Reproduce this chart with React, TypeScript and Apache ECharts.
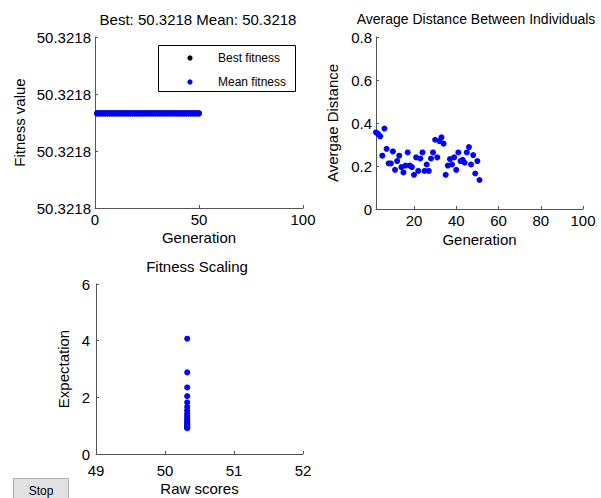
import React, { useEffect, useRef } from "react";
import * as echarts from "echarts";

// ---- Data ----
// Plot 1: fitness per generation (shown as offset units; all tick labels read 50.3218)
const fitnessGenerations = [1,2,3,4,5,6,7,8,9,10,11,12,13,14,15,16,17,18,19,20,21,22,23,24,25,26,27,28,29,30,31,32,33,34,35,36,37,38,39,40,41,42,43,44,45,46,47,48,49,50];
const bestFitness = [1.66,1.66,1.66,1.66,1.66,1.66,1.66,1.66,1.66,1.66,1.66,1.66,1.66,1.66,1.66,1.66,1.66,1.66,1.66,1.66,1.66,1.66,1.66,1.66,1.66,1.66,1.66,1.66,1.66,1.66,1.66,1.66,1.66,1.66,1.66,1.66,1.66,1.66,1.66,1.66,1.66,1.66,1.66,1.66,1.66,1.66,1.66,1.66,1.66,1.66];
const meanFitness = [1.66,1.66,1.66,1.66,1.66,1.66,1.66,1.66,1.66,1.66,1.66,1.66,1.66,1.66,1.66,1.66,1.66,1.66,1.66,1.66,1.66,1.66,1.66,1.66,1.66,1.66,1.66,1.66,1.66,1.66,1.66,1.66,1.66,1.66,1.66,1.66,1.66,1.66,1.66,1.66,1.66,1.66,1.66,1.66,1.66,1.66,1.66,1.66,1.66,1.66];
const fitnessTickLabels = ["50.3218", "50.3218", "50.3218", "50.3218"];
const legendNames = ["Best fitness", "Mean fitness"];

// Plot 2: average distance between individuals
const distanceGenerations = [2,3,4,5,6,7,8,9,10,11,12,13,14,15,16,17,18,19,20,21,22,23,24,25,26,27,28,29,30,31,32,33,34,35,36,37,38,39,40,41,42,43,44,45,46,47,48,49,50,51];
const avgDistance = [0.356,0.349,0.338,0.248,0.374,0.280,0.212,0.212,0.268,0.182,0.223,0.248,0.195,0.170,0.202,0.263,0.202,0.195,0.159,0.240,0.177,0.235,0.263,0.177,0.207,0.177,0.235,0.263,0.322,0.240,0.316,0.333,0.304,0.159,0.202,0.232,0.207,0.240,0.182,0.263,0.223,0.229,0.215,0.263,0.288,0.207,0.251,0.165,0.223,0.135];
const distanceXTicks = [20, 40, 60, 80, 100];

// Plot 3: fitness scaling
const rawScores = [50.3218,50.3218,50.3218,50.3218,50.3218,50.3218,50.3218,50.3218,50.3218,50.3218,50.3218,50.3218,50.3218,50.3218,50.3218,50.3218,50.3218,50.3218,50.3218,50.3218];
const expectation = [4.07,2.88,2.35,2.04,1.82,1.66,1.54,1.44,1.36,1.29,1.23,1.17,1.13,1.09,1.05,1.02,0.99,0.96,0.93,0.91];

const FONT = "'Liberation Sans', Arial, Helvetica, sans-serif";
const AXIS_COLOR = "#555";
const BLUE = "#0000ff";

function baseAxis(extra: any) {
  return {
    splitLine: { show: false },
    axisLine: { show: true, onZero: false, lineStyle: { color: AXIS_COLOR, width: 1 } },
    axisTick: { show: true, inside: true, length: 3, lineStyle: { color: AXIS_COLOR } },
    nameTextStyle: { color: "#000", fontSize: 15, fontFamily: FONT },
    ...extra,
    axisLabel: { color: "#000", fontSize: 15, fontFamily: FONT, ...(extra.axisLabel || {}) },
  };
}

export default function App() {
  const ref = useRef<HTMLDivElement>(null);
  useEffect(() => {
    if (!ref.current) return;
    const chart = echarts.init(ref.current, null, { renderer: "svg" });
    const titleStyle = { color: "#000", fontSize: 15, fontWeight: "normal" as const, fontFamily: FONT };
    chart.setOption({
      animation: false,
      backgroundColor: "#fff",
      title: [
        { text: "Best: 50.3218 Mean: 50.3218", left: 198, top: 12, textAlign: "center", padding: 0, textStyle: titleStyle },
        { text: "Average Distance Between Individuals", left: 476, top: 12, textAlign: "center", padding: 0, textStyle: { ...titleStyle, fontSize: 14 } },
        { text: "Fitness Scaling", left: 197, top: 259, textAlign: "center", padding: 0, textStyle: titleStyle },
      ],
      grid: [
        { left: 95, top: 37, width: 208, height: 171 },
        { left: 376, top: 37, width: 207, height: 172 },
        { left: 96, top: 284, width: 207, height: 170 },
      ],
      xAxis: [
        baseAxis({ gridIndex: 0, type: "value", min: 0, max: 100, interval: 50, name: "Generation", nameLocation: "middle", nameGap: 22, axisLabel: { margin: 4 } }),
        baseAxis({ gridIndex: 1, type: "value", min: 2, max: 100, name: "Generation", nameLocation: "middle", nameGap: 23,
          axisLabel: { margin: 4, customValues: distanceXTicks }, axisTick: { show: true, inside: true, length: 3, lineStyle: { color: AXIS_COLOR }, customValues: distanceXTicks } }),
        baseAxis({ gridIndex: 2, type: "value", min: 49, max: 52, interval: 1, name: "Raw scores", nameLocation: "middle", nameGap: 27, axisLabel: { margin: 9 } }),
      ],
      yAxis: [
        baseAxis({ gridIndex: 0, type: "value", min: 0, max: 3, interval: 1, name: "Fitness value", nameLocation: "middle", nameGap: 68,
          axisLabel: { margin: 4, formatter: (_v: number, i: number) => fitnessTickLabels[i] } }),
        baseAxis({ gridIndex: 1, type: "value", min: 0, max: 0.8, interval: 0.2, name: "Avergae Distance", nameLocation: "middle", nameGap: 36, axisLabel: { margin: 4 } }),
        baseAxis({ gridIndex: 2, type: "value", min: 0, max: 6, interval: 2, name: "Expectation", nameLocation: "middle", nameGap: 25, axisLabel: { margin: 6 } }),
      ],
      series: [
        { name: legendNames[0], type: "scatter", xAxisIndex: 0, yAxisIndex: 0, symbolSize: 6, itemStyle: { color: "#000", opacity: 1 },
          data: fitnessGenerations.map((g, i) => [g, bestFitness[i]]) },
        { name: legendNames[1], type: "scatter", xAxisIndex: 0, yAxisIndex: 0, symbolSize: 6, itemStyle: { color: BLUE, opacity: 1 },
          data: fitnessGenerations.map((g, i) => [g, meanFitness[i]]) },
        { name: "distance", type: "scatter", xAxisIndex: 1, yAxisIndex: 1, symbolSize: 6, itemStyle: { color: BLUE, opacity: 1 },
          data: distanceGenerations.map((g, i) => [g, avgDistance[i]]) },
        { name: "scaling", type: "scatter", xAxisIndex: 2, yAxisIndex: 2, symbolSize: 6, itemStyle: { color: BLUE, opacity: 1 },
          data: rawScores.map((r, i) => [r, expectation[i]]) },
      ],
      graphic: [
        {
          type: "group",
          left: 158,
          top: 45,
          children: [
            { type: "rect", shape: { x: 0.5, y: 0.5, width: 137, height: 46 }, style: { fill: "#fff", stroke: "#000", lineWidth: 1 } },
            { type: "circle", shape: { cx: 32, cy: 13, r: 2.6 }, style: { fill: "#000" } },
            { type: "text", x: 60, y: 13, style: { text: legendNames[0], fill: "#000", fontSize: 12, fontFamily: FONT, align: "left", verticalAlign: "middle" } },
            { type: "circle", shape: { cx: 32, cy: 37, r: 2.6 }, style: { fill: BLUE } },
            { type: "text", x: 60, y: 37, style: { text: legendNames[1], fill: "#000", fontSize: 12, fontFamily: FONT, align: "left", verticalAlign: "middle" } },
          ],
        },
        {
          type: "group",
          left: 13,
          top: 478,
          children: [
            { type: "rect", shape: { x: 0.5, y: 0.5, width: 55, height: 24 }, style: { fill: "#e1e1e1", stroke: "#adadad", lineWidth: 1 } },
            { type: "text", x: 28, y: 13, style: { text: "Stop", fill: "#000", fontSize: 12, fontFamily: FONT, align: "center", verticalAlign: "middle" } },
          ],
        },
      ],
    });
    return () => chart.dispose();
  }, []);
  return <div ref={ref} style={{ position: "fixed", left: 0, top: 0, width: 601, height: 498, background: "#fff" }} />;
}
